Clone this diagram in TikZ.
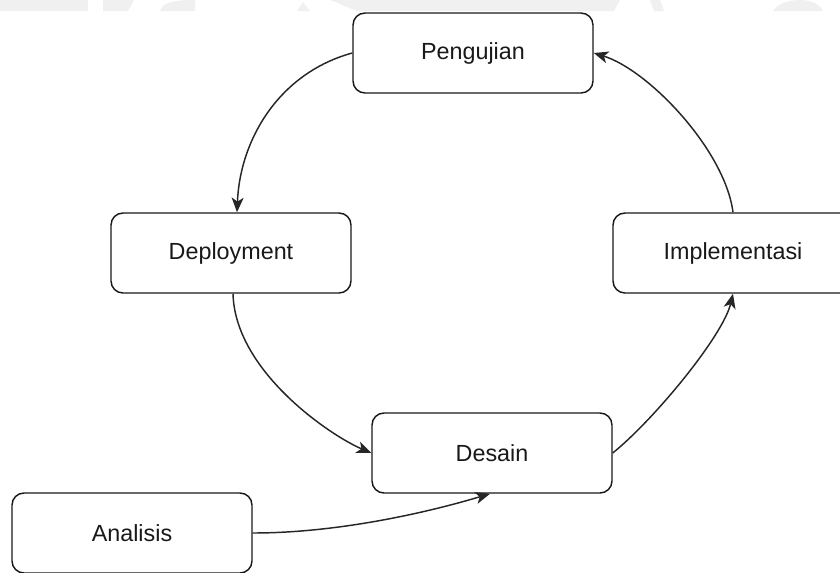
\documentclass[tikz,border=0pt]{standalone}
\usepackage{fontspec}
\setmainfont{Liberation Sans}
\usetikzlibrary{arrows.meta,calc}
\begin{document}
\begin{tikzpicture}[x=0.75pt,y=-0.75pt,
  box/.style={draw=black!90,line width=1.1pt,rounded corners=9pt,fill=white,
    minimum width=180pt,minimum height=60pt,inner sep=0pt,
    font=\fontsize{17.5}{21}\selectfont,text=black!90},
  conn/.style={draw=black!85,line width=1.1pt,-{Stealth[length=11pt,width=9pt,inset=3pt]}},
  wm/.style={fill=black!6,draw=none}]
\useasboundingbox (0,0) rectangle (840,572);
\clip (0,0) rectangle (840,572);
% faint watermark fragments at the top edge
\fill[black!6] (0,0) rectangle (88,11);
\fill[black!6] (103,0) -- (134,0) -- (128,11) -- (103,11) -- cycle;
\fill[black!6] (160,11) .. controls (162,2) and (175,0) .. (195,0) -- (195,11) -- cycle;
\fill[black!6] (297,11) -- (303,2) -- (310,11) -- cycle;
\fill[black!6] (330,0) -- (620,0) -- (614,11) -- (357,11) -- cycle;
\fill[black!6] (650,0) -- (660,0) -- (664,11) -- (654,11) -- cycle;
\fill[black!6] (773,11) .. controls (778,3) and (790,0) .. (800,0) .. controls (810,0) and (820,4) .. (823,11) -- cycle;
% nodes
\node[box] (peng) at (473,53) {Pengujian};
\node[box] (dep) at (231,253) {Deployment};
\node[box] (impl) at (733,253) {Implementasi};
\node[box] (des) at (492,453) {Desain};
\node[box] (ana) at (132,533) {Analisis};
% connectors
\draw[conn] (peng.west) .. controls +(-73,20) and +(3,-73) .. ($(dep.north)+(6,0)$);
\draw[conn] ($(dep.south)+(2,0)$) .. controls +(2,77) and +(-42,-18) .. (des.west);
\draw[conn] (des.east) .. controls +(42,-34) and +(-10,42) .. (impl.south);
\draw[conn] (impl.north) .. controls +(-8,-62) and +(55,17) .. (peng.east);
\draw[conn] (ana.east) .. controls +(87,0) and +(-60,18) .. ($(des.south)+(-2,0)$);
\end{tikzpicture}
\end{document}
